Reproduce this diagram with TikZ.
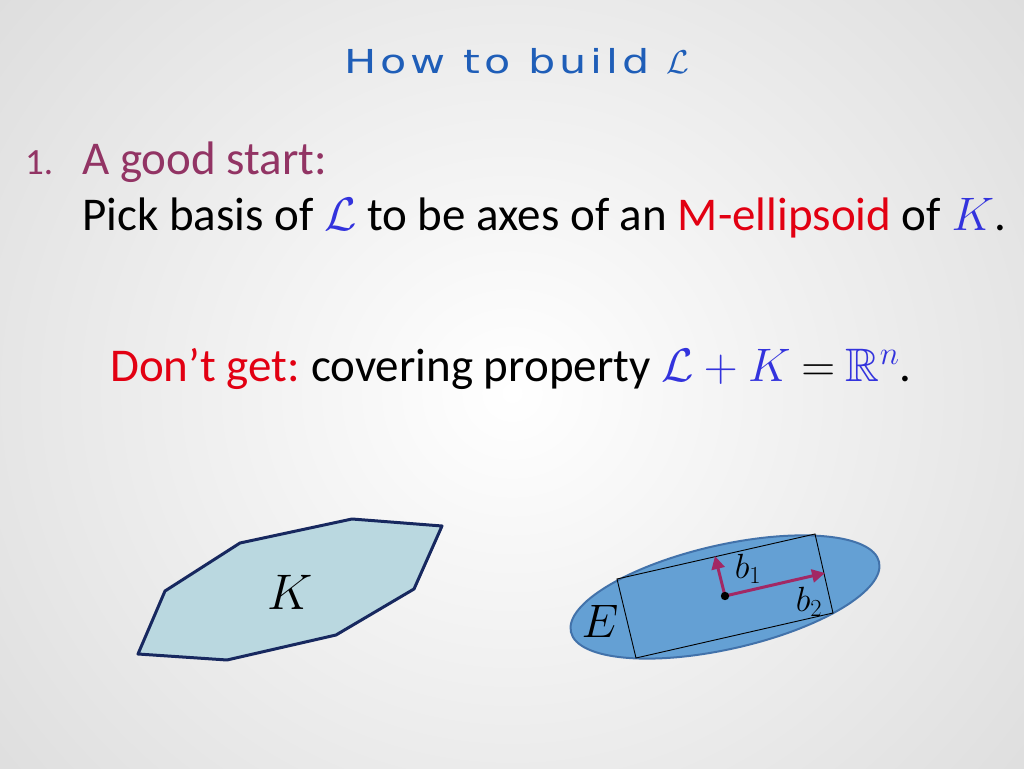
\RequirePackage{fix-cm}
\documentclass[tikz,border=0pt]{standalone}
\usepackage{amssymb}
\usepackage{fontspec}
\setmainfont{Carlito}
\newfontfamily\titlefont[LetterSpace=12,FakeStretch=1.3]{DejaVu Sans}
\usetikzlibrary{arrows.meta}
\definecolor{titleblue}{RGB}{31,94,184}
\definecolor{itempurple}{RGB}{146,52,100}
\definecolor{myred}{RGB}{226,0,18}
\definecolor{mathblue}{RGB}{51,51,221}
\definecolor{kfill}{RGB}{186,216,224}
\definecolor{kdraw}{RGB}{23,40,95}
\definecolor{efill}{RGB}{100,160,212}
\definecolor{edraw}{RGB}{66,114,170}
\definecolor{arrowc}{RGB}{162,40,100}
\definecolor{bgedge}{RGB}{222,222,222}
\tikzset{
  txt/.style={anchor=base west, inner sep=0pt, font=\fontsize{47}{54}\selectfont},
  basis/.style={draw=arrowc, line width=3pt, -{Triangle[length=13pt,width=13pt]}},
  lab/.style={inner sep=0pt}
}
\begin{document}
\begin{tikzpicture}[x=1pt,y=1pt]
\useasboundingbox (0,0) rectangle (1024,768);
\shade[inner color=white, outer color=bgedge] (-150,-250) rectangle (1174,1000);
% title
\node[lab, anchor=base, text=titleblue, font=\titlefont\fontsize{33}{38}\selectfont] (title) at (517,694) {How to build $\mathcal{L}$};
% item
\node[txt, text=itempurple, font=\fontsize{37}{42}\selectfont] (num) at (25,593) {1.};
\node[txt, text=itempurple] (start) at (82,593) {A good start:};
\node[txt] (pick) at (82,537) {Pick basis of \textcolor{mathblue}{$\mathcal{L}$} to be axes of an \textcolor{myred}{M-ellipsoid} of \textcolor{mathblue}{$K$}.};
\node[txt, font=\fontsize{47}{54}\selectfont] (dont) at (110,386) {\textcolor{myred}{Don’t get:}\hspace{-3pt} covering property \textcolor{mathblue}{$\mathcal{L}+K$} $=$ \textcolor{mathblue}{$\mathbb{R}^n$}.};
% K polygon
\draw[kdraw, fill=kfill, line width=3pt, line join=round] (240,225) -- (352,249) -- (442,242) -- (414,179) -- (336,133) -- (227,108) -- (138,114) -- (165,177) -- cycle;
\node[lab, font=\fontsize{50}{56}\selectfont] (K) at (290,176) {$K$};
% ellipse E
\draw[edraw, fill=efill, line width=2pt] (725,171) ellipse[x radius=158, y radius=52, rotate=12.8];
\draw[black, line width=0.9pt] (617,189) -- (815,234) -- (833,155) -- (636,110) -- cycle;
\node[lab, font=\fontsize{47}{52}\selectfont] (E) at (600,147) {$E$};
\coordinate (o) at (725,172);
\coordinate (t1) at (715,212);
\coordinate (t2) at (825,195);
\draw[basis] (o) -- (t1);
\draw[basis] (o) -- (t2);
\fill[black] (o) circle (4.2);
\node[lab, font=\fontsize{35}{40}\selectfont] (b1) at (748,199) {$b_1$};
\node[lab, font=\fontsize{35}{40}\selectfont] (b2) at (809,166) {$b_2$};
\end{tikzpicture}
\end{document}
